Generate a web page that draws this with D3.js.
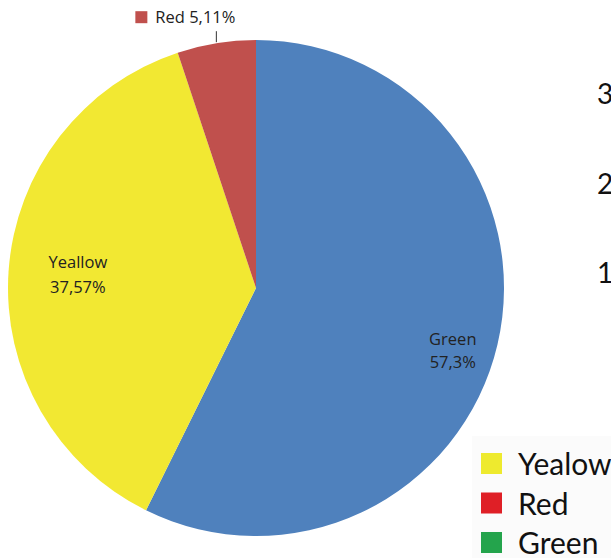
<!DOCTYPE html>
<html>
<head>
<meta charset="utf-8">
<script src="https://cdn.jsdelivr.net/npm/d3@7/dist/d3.min.js"></script>
<style>
  html, body { margin: 0; padding: 0; background: #ffffff; }
  svg { display: block; }
</style>
</head>
<body>
<svg id="chart" width="611" height="558"></svg>
<script>
// Pie slices, in drawing order (clockwise from 12 o'clock)
const sliceNames = ["Green", "Yeallow", "Red"];
const sliceValues = [57.3, 37.57, 5.11];
const sliceLabels = ["57,3%", "37,57%", "5,11%"];
const sliceColors = ["#4f81bd", "#f2e832", "#c0504d"];

// Side legend entries
const legendNames = ["Yealow", "Red", "Green"];
const legendColors = ["#eeea2e", "#df1f26", "#24a44c"];

// Axis numbers partly visible at the right edge
const sideTicks = ["3", "2", "1"];

const svg = d3.select("#chart");
const cx = 256, cy = 288, R = 248;

const pie = d3.pie().sort(null).value(d => d.value);
const arc = d3.arc().innerRadius(0).outerRadius(R);

const data = sliceNames.map((n, i) => ({
  name: n, value: sliceValues[i], label: sliceLabels[i], color: sliceColors[i]
}));
const arcs = pie(data);

const g = svg.append("g").attr("transform", `translate(${cx},${cy})`);

g.selectAll("path.slice")
  .data(arcs)
  .join("path")
  .attr("class", "slice")
  .attr("d", arc)
  .attr("fill", d => d.data.color);

const labelFont = "'Open Sans', 'DejaVu Sans', sans-serif";
const labelSize = 16.5;

// In-slice labels for the large slices: radius factor and baseline offsets
const placement = {
  "Green":   { k: 0.815, dy: [11, 34] },
  "Yeallow": { k: 0.72,  dy: [-8, 17] }
};
arcs.filter(a => placement[a.data.name]).forEach(a => {
  const p = placement[a.data.name];
  const [x, y] = d3.arc().innerRadius(R * p.k).outerRadius(R * p.k).centroid(a);
  const t = g.append("text")
    .attr("text-anchor", "middle")
    .attr("font-family", labelFont)
    .attr("font-size", labelSize)
    .attr("fill", "#222");
  t.append("tspan").attr("x", x).attr("y", y + p.dy[0]).text(a.data.name);
  t.append("tspan").attr("x", x).attr("y", y + p.dy[1]).text(a.data.label);
});

// Outside label with leader line for the small slice
const red = arcs.find(a => a.data.name === "Red");
const mid = (red.startAngle + red.endAngle) / 2;
const edgeX = R * Math.sin(mid);
const edgeY = -R * Math.cos(mid);
g.append("line")
  .attr("x1", edgeX).attr("x2", edgeX)
  .attr("y1", edgeY - 1).attr("y2", edgeY - 12)
  .attr("stroke", "#333").attr("stroke-width", 1);
g.append("rect")
  .attr("x", edgeX - 81).attr("y", edgeY - 32)
  .attr("width", 12).attr("height", 12)
  .attr("fill", red.data.color);
g.append("text")
  .attr("x", edgeX - 61).attr("y", edgeY - 20)
  .attr("font-family", labelFont)
  .attr("font-size", labelSize)
  .attr("fill", "#222")
  .text(`${red.data.name} ${red.data.label}`);

// Side axis numbers
const tickY = d3.scalePoint().domain(sideTicks).range([104, 283]);
svg.selectAll("text.tick")
  .data(sideTicks)
  .join("text")
  .attr("class", "tick")
  .attr("x", 597)
  .attr("y", d => tickY(d))
  .attr("font-family", "Lato, 'Open Sans', sans-serif")
  .attr("font-size", 28)
  .attr("fill", "#111")
  .text(d => d);

// Legend box
const legY = d3.scalePoint().domain(legendNames).range([464, 543]);
svg.append("rect")
  .attr("x", 472).attr("y", 436).attr("width", 139).attr("height", 122)
  .attr("fill", "#fbfbfb");
const leg = svg.selectAll("g.leg")
  .data(legendNames)
  .join("g")
  .attr("class", "leg")
  .attr("transform", d => `translate(0,${legY(d)})`);
leg.append("rect")
  .attr("x", 481).attr("y", -11)
  .attr("width", 21).attr("height", 21)
  .attr("fill", (d, i) => legendColors[i]);
leg.append("text")
  .attr("x", 518).attr("y", 11)
  .attr("font-family", "Lato, 'Open Sans', sans-serif")
  .attr("font-size", 30)
  .attr("fill", "#111")
  .text(d => d);
</script>
</body>
</html>
